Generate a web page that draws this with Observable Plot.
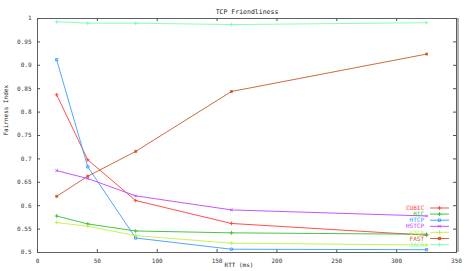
<!DOCTYPE html>
<html>
<head>
<meta charset="utf-8">
<script src="https://cdn.jsdelivr.net/npm/d3@7"></script>
<script src="https://cdn.jsdelivr.net/npm/@observablehq/plot@0.6"></script>
<style>
  html, body { margin: 0; padding: 0; background: #fff; }
  #chart svg { display: block; }
</style>
</head>
<body>
<div id="chart"></div>
<script>
// ---- data ----
const rtt = [16, 42, 82, 162, 325];
const seriesNames = ["CUBIC", "BIC", "HTCP", "HSTCP", "STCP", "FAST", "SACK"];
const cubic = [0.837, 0.698, 0.611, 0.562, 0.537];
const bic   = [0.578, 0.561, 0.546, 0.542, 0.539];
const htcp  = [0.912, 0.683, 0.531, 0.507, 0.506];
const hstcp = [0.675, 0.658, 0.621, 0.591, 0.578];
const stcp  = [0.564, 0.556, 0.536, 0.520, 0.516];
const fast  = [0.620, 0.663, 0.716, 0.844, 0.924];
const sack  = [0.993, 0.990, 0.990, 0.987, 0.991];
const xTicks = [0, 50, 100, 150, 200, 250, 300, 350];
const yTicks = [0.5, 0.55, 0.6, 0.65, 0.7, 0.75, 0.8, 0.85, 0.9, 0.95, 1];
const title = "TCP Friendliness";
const xLabel = "RTT (ms)";
const yLabel = "Fairness Index";

// ---- styling ----
const colors = ["#ff3c3c", "#30c030", "#3c9cff", "#c040ff", "#c4f040", "#c85a28", "#78ffb4"];
const symbols = ["plus", "plus", "square", "times", "plus", "square", "plus"];
const fills = ["none", "none", "none", "none", "none", "fill", "none"];

const valuesBySeries = [cubic, bic, htcp, hstcp, stcp, fast, sack];
const rows = [];
seriesNames.forEach((name, i) => {
  valuesBySeries[i].forEach((v, j) => rows.push({series: name, rtt: rtt[j], value: v}));
});

const font = "'DejaVu Sans Mono', monospace";

const chart = Plot.plot({
  width: 468,
  height: 271,
  marginLeft: 37,
  marginRight: 12,
  marginTop: 18,
  marginBottom: 19,
  style: {fontFamily: font, fontSize: "6px", background: "#fff", color: "#222"},
  x: {domain: [0, 350], label: null},
  y: {domain: [0.5, 1], label: null},
  color: {domain: seriesNames, range: colors},
  symbol: {domain: seriesNames, range: symbols},
  marks: [
    Plot.ruleX([350], {stroke: "#b4b4b4", strokeWidth: 3, dx: 1}),
    Plot.frame({stroke: "#606060"}),
    Plot.tickX(xTicks, {x: d => d, insetTop: 231, stroke: "#505050"}),
    Plot.tickX(xTicks, {x: d => d, insetBottom: 231, stroke: "#505050"}),
    Plot.tickY(yTicks, {y: d => d, insetRight: 416, stroke: "#505050"}),
    Plot.tickY(yTicks, {y: d => d, insetLeft: 416, stroke: "#505050"}),
    Plot.axisX(xTicks, {tickSize: 0, tickPadding: 6, label: null, fontSize: 6, fill: "#333"}),
    Plot.axisY(yTicks, {tickSize: 0, tickPadding: 6, label: null, fontSize: 6, fill: "#333",
      tickFormat: d => String(+d.toFixed(2))}),
    Plot.line(rows, {x: "rtt", y: "value", z: "series", stroke: "series", strokeWidth: 0.9}),
    Plot.dot(rows.filter(d => d.series !== "FAST"), {x: "rtt", y: "value", stroke: "series", symbol: "series", r: 1.3, strokeWidth: 0.9}),
    Plot.dot(rows.filter(d => d.series === "FAST"), {x: "rtt", y: "value", fill: "series", stroke: "series", symbol: "series", r: 1.1, strokeWidth: 0.8}),
    Plot.text([title], {frameAnchor: "top", dy: -9, fontSize: 6.5, fill: "#222"}),
    Plot.text([xLabel], {frameAnchor: "bottom", dy: 14, dx: -8, fontSize: 6, fill: "#222"}),
    Plot.text([yLabel], {frameAnchor: "left", dx: -31, rotate: -90, fontSize: 6, fill: "#222"})
  ]
});

document.getElementById("chart").appendChild(chart);

// ---- legend (key) drawn inside the plot area, like gnuplot ----
const svg = d3.select(chart);
const key = svg.append("g").attr("font-family", font).attr("font-size", 6);
seriesNames.forEach((name, i) => {
  const y = 208 + i * 6.1;
  key.append("text").attr("x", 424).attr("y", y).attr("dy", "0.35em")
    .attr("text-anchor", "end").attr("fill", colors[i]).text(name);
  key.append("line").attr("x1", 430).attr("x2", 449).attr("y1", y).attr("y2", y)
    .attr("stroke", colors[i]).attr("stroke-width", 0.9);
  const shape = {plus: d3.symbolPlus, square: d3.symbolSquare, times: d3.symbolTimes}[symbols[i]] || d3.symbolPlus;
  key.append("path").attr("transform", `translate(439.5,${y})`)
    .attr("d", d3.symbol(shape, 6)())
    .attr("fill", fills[i] === "none" ? "none" : colors[i])
    .attr("stroke", colors[i]).attr("stroke-width", 0.9);
});
</script>
</body>
</html>
